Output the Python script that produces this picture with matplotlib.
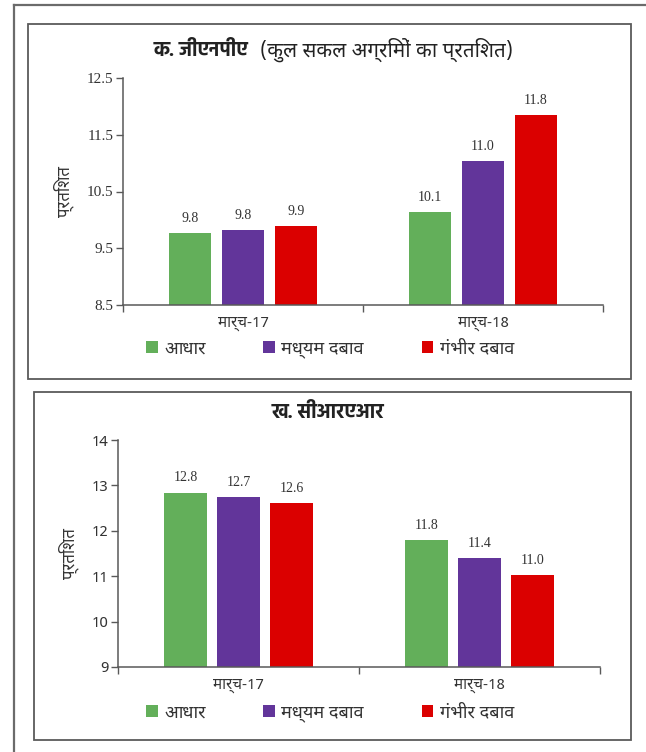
import matplotlib
matplotlib.use("Agg")
import matplotlib.pyplot as plt
from matplotlib import font_manager
from matplotlib.ft2font import FT2Font
from matplotlib.patches import Rectangle
from matplotlib.lines import Line2D

# ---- data ----
categories = ['मार्च-17', 'मार्च-18']
series_names = ['आधार', 'मध्यम दबाव', 'गंभीर दबाव']
gnpa_base = [9.77, 10.14]
gnpa_moderate = [9.82, 11.04]
gnpa_severe = [9.89, 11.84]
crar_base = [12.84, 11.80]
crar_moderate = [12.74, 11.40]
crar_severe = [12.61, 11.03]
gnpa_ticks = [8.5, 9.5, 10.5, 11.5, 12.5]
crar_ticks = [9, 10, 11, 12, 13, 14]

colors = ['#63AF5A', '#62359A', '#DB0000']


def devanagari_fonts():
    """Map family name -> list of weights for fonts that cover Devanagari."""
    found = {}
    for f in font_manager.fontManager.ttflist:
        try:
            cmap = FT2Font(f.fname).get_charmap()
        except Exception:
            continue
        if 0x0915 in cmap and 0x093F in cmap:
            w = f.weight if isinstance(f.weight, int) else 400
            found.setdefault(f.name, []).append(w)
    return found


available = devanagari_fonts()
preferred = ['Noto Sans Devanagari', 'Hind', 'Mukta', 'Yantramanav', 'Poppins',
             'Martel Sans', 'FreeSans']
deva = [n for n in preferred if n in available][:1] or list(available)[:1]
deva_bold = [n for n in preferred
             if n in available and max(available[n]) >= 600][:1] or deva
sans = deva + ['Noto Sans', 'DejaVu Sans']
sans_bold = deva_bold + ['Noto Sans', 'DejaVu Sans']
plt.rcParams['font.family'] = sans

W, H = 646, 752
fig = plt.figure(figsize=(W / 100, H / 100), dpi=100)


def fx(px):
    return px / W


def fy(py):
    return 1 - py / H


# outer frame (left and top edges)
fig.add_artist(Line2D([fx(14), fx(14)], [fy(5), 0], color='#6b6b6b', lw=1.6,
                      transform=fig.transFigure))
fig.add_artist(Line2D([fx(14), 1], [fy(5), fy(5)], color='#6b6b6b', lw=1.6,
                      transform=fig.transFigure))

# panel boxes
for (x0, y0, x1, y1) in [(28, 24, 631, 379), (34, 392, 631, 740)]:
    fig.add_artist(Rectangle((fx(x0), fy(y1)), fx(x1) - fx(x0), fy(y0) - fy(y1),
                             transform=fig.transFigure, fill=False,
                             edgecolor='#5a5a5a', lw=1.3))

bar_w = 0.175
offsets = [-0.22, 0.0, 0.22]
axis_col = '#595959'


def panel(rect, series, ticks, tick_font, tick_fmt, legend_y):
    ax = fig.add_axes(rect)
    xs = range(len(categories))
    bars = []
    for off, vals, col, name in zip(offsets, series, colors, series_names):
        b = ax.bar([x + off for x in xs], vals, width=bar_w, color=col,
                   label=name, zorder=2)
        bars.append(b)
        for rect_, v in zip(b, vals):
            ax.annotate(f'{v:.1f}', (rect_.get_x() + rect_.get_width() / 2, v),
                        xytext=(0, 6), textcoords='offset points',
                        ha='center', va='bottom', fontsize=10,
                        family='Liberation Serif', color='#333333')
    ax.set_xlim(-0.5, len(categories) - 0.5)
    ax.set_ylim(ticks[0], ticks[-1])
    ax.set_yticks(ticks)
    ax.set_yticklabels([tick_fmt.format(t) for t in ticks], family=tick_font,
                       fontsize=11, color='#333333')
    ax.set_xticks(list(xs))
    ax.set_xticklabels(categories, fontsize=11, color='#333333')
    ax.tick_params(axis='x', which='major', length=0, pad=8)
    ax.set_xticks([-0.5, 0.5, 1.5], minor=True)
    ax.tick_params(axis='x', which='minor', length=5, color=axis_col, width=1)
    ax.tick_params(axis='y', length=5, color=axis_col, width=1, pad=2)
    for s in ['top', 'right']:
        ax.spines[s].set_visible(False)
    for s in ['left', 'bottom']:
        ax.spines[s].set_color(axis_col)
        ax.spines[s].set_linewidth(1.1)
    ax.set_ylabel('प्रतिशत', fontsize=12, color='#333333', labelpad=9)
    ax.legend(handles=bars, loc='center', ncol=3, frameon=False,
              bbox_to_anchor=(fx(330), legend_y), bbox_transform=fig.transFigure,
              fontsize=13, handlelength=0.65, handleheight=0.65,
              handletextpad=0.35, columnspacing=3.2, labelcolor='#333333')
    return ax


ax1 = panel([fx(123), fy(305), fx(603) - fx(123), fy(78) - fy(305)],
            [gnpa_base, gnpa_moderate, gnpa_severe], gnpa_ticks,
            'Liberation Serif', '{:.1f}', fy(349))
ax2 = panel([fx(118), fy(667), fx(600) - fx(118), fy(440) - fy(667)],
            [crar_base, crar_moderate, crar_severe], crar_ticks,
            sans, '{:d}', fy(713))

# panel titles
fig.text(fx(248), fy(50), 'क. जीएनपीए', ha='right', va='center',
         fontsize=14.3, fontweight='bold', family=sans_bold, color='#222222')
fig.text(fx(260), fy(50), '(कुल सकल अग्रिमों का प्रतिशत)', ha='left', va='center',
         fontsize=14.8, color='#222222')
fig.text(fx(328), fy(413), 'ख. सीआरएआर', ha='center', va='center',
         fontsize=14.3, fontweight='bold', family=sans_bold, color='#222222')

fig.savefig('out.png', dpi=100)
